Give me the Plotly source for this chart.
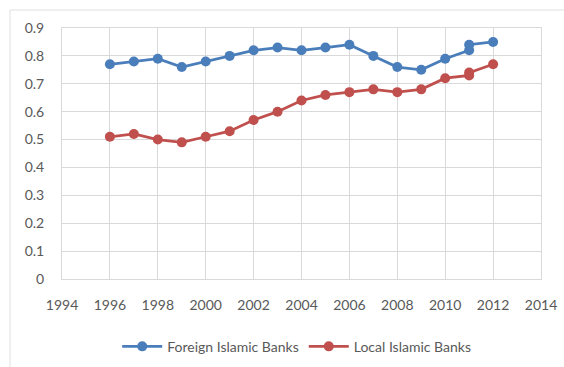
import plotly.graph_objects as go

years_foreign = [1996, 1997, 1998, 1999, 2000, 2001, 2002, 2003, 2004, 2005, 2006, 2007, 2008, 2009, 2010, 2011, 2011, 2012]
foreign = [0.77, 0.78, 0.79, 0.76, 0.78, 0.80, 0.82, 0.83, 0.82, 0.83, 0.84, 0.80, 0.76, 0.75, 0.79, 0.82, 0.84, 0.85]
years_local = [1996, 1997, 1998, 1999, 2000, 2001, 2002, 2003, 2004, 2005, 2006, 2007, 2008, 2009, 2010, 2011, 2011, 2012]
local = [0.51, 0.52, 0.50, 0.49, 0.51, 0.53, 0.57, 0.60, 0.64, 0.66, 0.67, 0.68, 0.67, 0.68, 0.72, 0.73, 0.74, 0.77]

x_ticks = list(range(1994, 2015, 2))
y_ticks = [0, 0.1, 0.2, 0.3, 0.4, 0.5, 0.6, 0.7, 0.8, 0.9]
y_labels = ["0", "0.1", "0.2", "0.3", "0.4", "0.5", "0.6", "0.7", "0.8", "0.9"]

blue = "#4a7ebb"
red = "#c0504d"
font_family = "Lato, 'Open Sans', sans-serif"

fig = go.Figure()
fig.add_trace(go.Scatter(x=years_foreign, y=foreign, name="Foreign Islamic Banks",
                         mode="lines+markers",
                         line=dict(color=blue, width=2.75),
                         marker=dict(color=blue, size=10)))
fig.add_trace(go.Scatter(x=years_local, y=local, name="Local Islamic Banks",
                         mode="lines+markers",
                         line=dict(color=red, width=2.75),
                         marker=dict(color=red, size=10)))

fig.update_layout(
    width=564, height=367,
    margin=dict(l=62, r=23, t=28, b=88, autoexpand=False),
    paper_bgcolor="white", plot_bgcolor="white",
    font=dict(family=font_family, size=14, color="#595959"),
    showlegend=True,
    legend=dict(orientation="h", x=0.49, xanchor="center", y=-0.27, yanchor="middle",
                font=dict(size=14, color="#595959"), itemwidth=40),
    shapes=[
        dict(type="line", xref="paper", yref="paper", x0=-52/479, x1=1.1, y0=(279-10)/251, y1=(279-10)/251,
             line=dict(color="#e0e0e0", width=1)),
        dict(type="line", xref="paper", yref="paper", x0=-52/479, x1=-52/479, y0=-0.4, y1=(279-10)/251,
             line=dict(color="#e0e0e0", width=1)),
    ],
)
fig.update_xaxes(range=[1994, 2014], tickvals=x_ticks, ticktext=[str(v) for v in x_ticks],
                 showgrid=True, gridcolor="#d9d9d9", gridwidth=1, automargin=False,
                 showline=True, linecolor="#d9d9d9", linewidth=1, mirror=True,
                 zeroline=False, ticks="outside", ticklen=13, tickcolor="rgba(0,0,0,0)")
fig.update_yaxes(range=[0, 0.9], tickvals=y_ticks, ticktext=y_labels,
                 showgrid=True, gridcolor="#d9d9d9", gridwidth=1, automargin=False,
                 showline=True, linecolor="#d9d9d9", linewidth=1, mirror=True,
                 zeroline=False, ticks="outside", ticklen=14, tickcolor="rgba(0,0,0,0)")

fig.write_html("out.html")
